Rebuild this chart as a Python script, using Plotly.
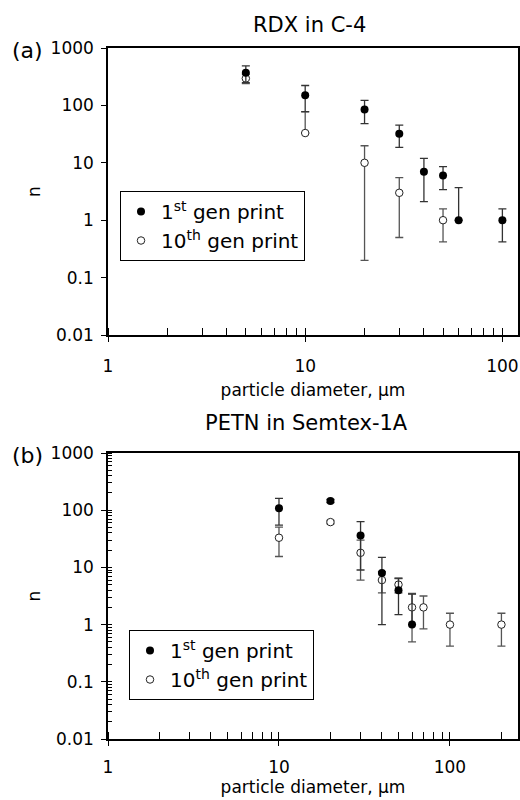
import math
import plotly.graph_objects as go

# ---------------- data ----------------
# Panel (a): RDX in C-4
a_x_first = [5, 10, 20, 30, 40, 50, 60, 100]
a_n_first = [370, 150, 85, 32, 7, 6, 1, 1]
a_err_first = [120, 72, 37, 13.5, 4.9, 2.6, 2.7, 0.58]

a_x_tenth = [5, 10, 20, 30, 50]
a_n_tenth = [295, 33, 10, 3, 1]
a_err_tenth = [55, 44, 9.8, 2.5, 0.58]

# Panel (b): PETN in Semtex-1A
b_x_first = [10, 20, 30, 40, 50, 60]
b_n_first = [108, 145, 36, 8, 4, 1]
b_err_first = [53, 9, 27, 7, 2.5, 2.4]

b_x_tenth = [10, 20, 30, 40, 50, 60, 70, 100, 200]
b_n_tenth = [33, 62, 18, 6, 5, 2, 2, 1, 1]
b_err_tenth = [17.5, 4, 12, 2.4, 1.4, 1.5, 1.16, 0.58, 0.58]

y_tickvals = [0.01, 0.1, 1, 10, 100, 1000]
y_ticktext = ["0.01", "0.1", "1", "10", "100", "1000"]
x_tickvals = [1, 10, 100]
x_ticktext = ["1", "10", "100"]

name_first = "1<sup>st</sup> gen print"
name_tenth = "10<sup>th</sup> gen print"
title_a = "RDX in C-4"
title_b = "PETN in Semtex-1A"
x_title = "particle diameter, µm"
y_title = "n"

FONT = "DejaVu Sans"
W, H = 520, 800


def lower(vals, errs):
    # bars that would reach below zero are not drawn downward (log axis)
    return [e if e < v else 0 for v, e in zip(vals, errs)]


def err(vals, errs, color):
    return dict(type="data", symmetric=False, array=errs,
                arrayminus=lower(vals, errs), color=color,
                thickness=1.3, width=4)


fig = go.Figure()

# panel (a)
fig.add_trace(go.Scatter(
    x=a_x_tenth, y=a_n_tenth, mode="markers", name=name_tenth,
    marker=dict(symbol="circle", size=7.5, color="white",
                line=dict(color="#222", width=1)),
    error_y=err(a_n_tenth, a_err_tenth, "#555"),
    xaxis="x", yaxis="y", legend="legend", legendrank=2))
fig.add_trace(go.Scatter(
    x=a_x_first, y=a_n_first, mode="markers", name=name_first,
    marker=dict(symbol="circle", size=8, color="black"),
    error_y=err(a_n_first, a_err_first, "#333"),
    xaxis="x", yaxis="y", legend="legend", legendrank=1))

# panel (b)
fig.add_trace(go.Scatter(
    x=b_x_tenth, y=b_n_tenth, mode="markers", name=name_tenth,
    marker=dict(symbol="circle", size=7.5, color="white",
                line=dict(color="#222", width=1)),
    error_y=err(b_n_tenth, b_err_tenth, "#555"),
    xaxis="x2", yaxis="y2", legend="legend2", legendrank=2))
fig.add_trace(go.Scatter(
    x=b_x_first, y=b_n_first, mode="markers", name=name_first,
    marker=dict(symbol="circle", size=8, color="black"),
    error_y=err(b_n_first, b_err_first, "#333"),
    xaxis="x2", yaxis="y2", legend="legend2", legendrank=1))

xdom = [108 / W, 518 / W]
ydom_a = [1 - 335 / H, 1 - 48 / H]
ydom_b = [1 - 739 / H, 1 - 453 / H]

axfont = dict(family=FONT, size=17, color="black")


def xaxis(anchor, rng, labelgap, standoff):
    return dict(type="log", domain=xdom, anchor=anchor, range=rng,
                automargin=False,
                showline=True, linecolor="black", linewidth=1.5, mirror=True,
                showgrid=False, zeroline=False,
                tickmode="array", tickvals=x_tickvals, ticktext=x_ticktext,
                ticks="outside", ticklen=5, tickwidth=1.2, tickcolor="black",
                ticklabelstandoff=labelgap, tickfont=axfont,
                minor=dict(ticks="inside", ticklen=7, tickwidth=1.2,
                           tickcolor="black", dtick="D1", showgrid=False),
                title=dict(text=x_title, font=axfont, standoff=standoff))


def yaxis(anchor, dom, minor):
    d = dict(type="log", domain=dom, anchor=anchor, range=[-2, 3],
             automargin=False,
             showline=True, linecolor="black", linewidth=1.5, mirror=True,
             showgrid=False, zeroline=False,
             tickmode="array", tickvals=y_tickvals, ticktext=y_ticktext,
             ticks="outside", ticklen=5, tickwidth=1.2, tickcolor="black",
             ticklabelstandoff=4, tickfont=axfont,
             title=dict(text=y_title, font=axfont, standoff=6))
    if minor:
        d["minor"] = dict(ticks="inside", ticklen=4, tickwidth=1,
                          tickcolor="black", dtick="D1", showgrid=False)
    return d


legfont = dict(family=FONT, size=20, color="black")

fig.update_layout(
    template="none",
    width=W, height=H,
    margin=dict(l=0, r=0, t=0, b=0, pad=0, autoexpand=False),
    paper_bgcolor="white", plot_bgcolor="white",
    font=dict(family=FONT, color="black"),
    xaxis=xaxis("y", [0, math.log10(120)], 10, 9),
    yaxis=yaxis("x", ydom_a, False),
    xaxis2=xaxis("y2", [0, math.log10(250)], 7, 5),
    yaxis2=yaxis("x2", ydom_b, True),
    legend=dict(x=120 / W, y=1 - 191 / H, xanchor="left", yanchor="top",
                bgcolor="white", bordercolor="black", borderwidth=1,
                font=legfont, itemwidth=30, tracegroupgap=0),
    legend2=dict(x=129 / W, y=1 - 630 / H, xanchor="left", yanchor="top",
                 bgcolor="white", bordercolor="black", borderwidth=1,
                 font=legfont, itemwidth=30, tracegroupgap=0),
    showlegend=True,
    annotations=[
        dict(text=title_a, x=309 / W, y=1 - 25 / H, xref="paper", yref="paper",
             xanchor="center", yanchor="middle", showarrow=False,
             font=dict(family=FONT, size=21)),
        dict(text=title_b, x=306 / W, y=1 - 423 / H, xref="paper", yref="paper",
             xanchor="center", yanchor="middle", showarrow=False,
             font=dict(family=FONT, size=21)),
        dict(text="(a)", x=10 / W, y=1 - 50 / H, xref="paper", yref="paper",
             xanchor="left", yanchor="middle", showarrow=False,
             font=dict(family=FONT, size=22)),
        dict(text="(b)", x=10 / W, y=1 - 455 / H, xref="paper", yref="paper",
             xanchor="left", yanchor="middle", showarrow=False,
             font=dict(family=FONT, size=22)),
    ],
)

fig.write_html(
    "out.html",
    config={"displayModeBar": False},
    post_script="document.body.style.margin='0';"
                "document.body.style.padding='0';"
                "document.body.style.overflow='hidden';",
)
